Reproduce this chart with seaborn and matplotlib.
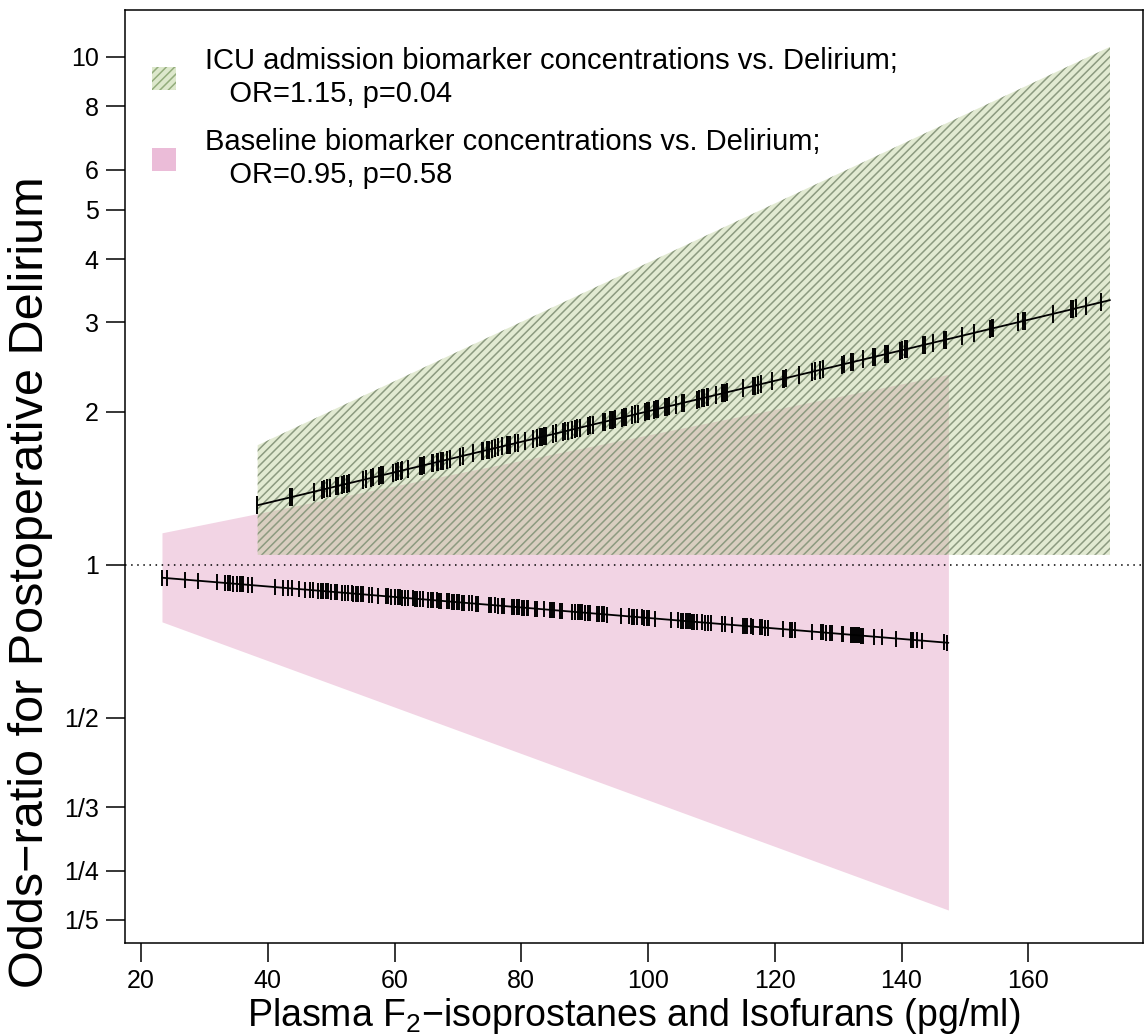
import numpy as np
import matplotlib
matplotlib.use("Agg")
import matplotlib.pyplot as plt
import seaborn as sns
from matplotlib.patches import Patch

# --- data ---
# ICU admission model: fitted OR line and 95% band (endpoints)
icu_x = [38.4, 172.9]
icu_or = [1.31, 3.32]
icu_lo = [1.046, 1.046]
icu_hi = [1.72, 10.47]

# Baseline model
base_x = [23.3, 147.4]
base_or = [0.943, 0.702]
base_lo = [0.772, 0.209]
base_hi = [1.156, 2.37]

# observed concentrations (rug ticks on the fitted lines)
icu_obs = [38.3, 43.5, 43.8, 47.3, 48.6, 48.9, 49.4, 49.8, 50.8, 51.1, 51.7, 52.0,
           52.5, 52.8, 55.0, 55.5, 56.3, 56.6, 57.6, 57.9, 58.2, 59.8, 60.2, 60.6,
           61.0, 61.2, 62.1, 64.0, 64.3, 64.7, 65.9, 66.1, 66.7, 66.9, 67.3, 67.7,
           68.3, 68.8, 70.3, 70.8, 72.4, 73.8, 74.0, 74.6, 74.9, 75.4, 75.9, 76.3,
           77.0, 77.8, 77.9, 78.2, 79.0, 79.5, 80.6, 81.9, 82.5, 83.0, 83.3, 83.6,
           83.9, 85.0, 85.5, 86.6, 86.9, 87.4, 88.0, 88.5, 88.8, 89.3, 90.5, 90.9,
           91.3, 92.9, 93.2, 94.0, 94.3, 94.5, 94.8, 95.9, 96.2, 96.5, 97.5, 98.0,
           98.4, 99.5, 99.9, 100.2, 101.0, 101.3, 101.6, 102.7, 103.0, 103.3, 104.4,
           105.4, 105.7, 107.7, 108.1, 108.5, 108.9, 109.3, 109.5, 110.7, 111.7,
           111.9, 112.2, 112.5, 115.0, 116.6, 116.9, 117.4, 117.9, 119.6, 121.3,
           121.5, 121.8, 123.8, 125.9, 126.4, 127.2, 127.6, 130.6, 131.0, 132.1,
           132.4, 134.0, 135.5, 135.8, 137.4, 137.7, 137.9, 139.8, 140.1, 140.6,
           140.9, 143.4, 143.7, 145.0, 146.7, 147.0, 149.6, 151.5, 154.0, 154.3,
           154.5, 158.4, 159.2, 159.5, 163.9, 166.8, 167.1, 167.6, 169.1, 171.5]

base_obs = [23.3, 24.1, 26.9, 29.0, 32.0, 33.3, 33.7, 34.0, 34.5, 35.1, 35.6, 35.9,
            36.1, 36.9, 37.5, 41.1, 42.4, 43.2, 43.8, 44.9, 45.9, 46.7, 47.1, 47.9,
            48.4, 48.7, 49.2, 49.5, 50.0, 50.6, 50.9, 51.7, 52.2, 52.7, 53.3, 53.5,
            53.9, 54.2, 54.7, 55.0, 56.0, 56.5, 57.4, 58.7, 59.0, 59.5, 60.1, 60.5,
            60.9, 61.2, 61.7, 62.1, 62.9, 63.2, 63.6, 64.0, 64.5, 65.3, 65.8, 66.1,
            66.7, 67.0, 67.3, 68.3, 68.6, 69.1, 69.4, 69.9, 70.2, 70.7, 71.0, 71.8,
            72.2, 72.9, 73.2, 74.9, 75.2, 75.9, 76.3, 77.0, 77.3, 78.6, 78.9, 79.3,
            79.7, 80.1, 80.5, 80.9, 81.1, 82.2, 82.5, 83.6, 84.6, 84.9, 85.2, 86.1,
            86.4, 88.0, 88.5, 89.0, 89.3, 89.6, 90.1, 90.5, 90.9, 92.0, 92.3, 92.8,
            93.1, 93.5, 95.8, 97.0, 97.5, 97.8, 98.3, 99.1, 99.4, 99.9, 100.2, 101.1,
            103.6, 104.7, 105.2, 105.5, 106.0, 106.3, 106.6, 107.0, 107.3, 107.7,
            108.5, 109.0, 109.5, 110.0, 111.7, 112.2, 113.3, 115.0, 115.3, 115.6,
            116.3, 116.6, 117.7, 118.0, 118.5, 118.9, 121.3, 122.4, 122.7, 123.2,
            125.9, 127.3, 127.6, 128.1, 128.7, 129.1, 130.6, 130.8, 132.1, 132.4,
            132.7, 133.0, 133.3, 133.6, 133.9, 135.7, 136.9, 139.2, 141.5, 141.8,
            142.5, 143.3, 146.7, 147.2]

y_ticks = [1/5, 1/4, 1/3, 1/2, 1, 2, 3, 4, 5, 6, 8, 10]
y_labels = ["1/5", "1/4", "1/3", "1/2", "1", "2", "3", "4", "5", "6", "8", "10"]
x_ticks = [20, 40, 60, 80, 100, 120, 140, 160]

legend_labels = ["ICU admission biomarker concentrations vs. Delirium;\n   OR=1.15, p=0.04",
                 "Baseline biomarker concentrations vs. Delirium;\n   OR=0.95, p=0.58"]

GREEN = (0.675, 0.765, 0.494, 0.35)   # translucent green fill
HATCH = "#8c9a80"
PINK = "#f2d4e4"

sns.set_style("ticks")
plt.rcParams["font.family"] = ["Liberation Sans", "DejaVu Sans"]
plt.rcParams["mathtext.default"] = "regular"
plt.rcParams["hatch.linewidth"] = 1.1
plt.rcParams["text.color"] = "black"
plt.rcParams["axes.labelcolor"] = "black"


def on_line(xs, line_x, line_y):
    # position of rug ticks on the (log-linear) fitted line
    return np.exp(np.interp(xs, line_x, np.log(line_y)))


fig = plt.figure(figsize=(11.45, 10.36), dpi=100)
ax = fig.add_axes([0.1092, 0.0898, 0.889, 0.9005])

# bands: pink underneath, translucent hatched green on top
ax.fill_between(base_x, base_lo, base_hi, facecolor=PINK, linewidth=0, zorder=1)
ax.fill_between(icu_x, icu_lo, icu_hi, facecolor=GREEN, edgecolor=HATCH,
                hatch="////", linewidth=0, zorder=2)

ax.axhline(1, color="black", linestyle=(0, (1, 3)), linewidth=1.1, zorder=3)

# fitted lines
sns.lineplot(x=icu_x, y=icu_or, color="black", linewidth=1.3, ax=ax, zorder=4)
sns.lineplot(x=base_x, y=base_or, color="black", linewidth=1.3, ax=ax, zorder=4)

# rugs on the lines
ax.plot(icu_obs, on_line(icu_obs, icu_x, icu_or), linestyle="none", marker="|",
        markersize=13, markeredgewidth=1.4, color="black", zorder=5)
ax.plot(base_obs, on_line(base_obs, base_x, base_or), linestyle="none", marker="|",
        markersize=11, markeredgewidth=1.4, color="black", zorder=5)

ax.set_yscale("log")
ax.set_xlim(17.47, 178.1)
ax.set_ylim(0.180, 12.37)
ax.set_yticks(y_ticks)
ax.set_yticklabels(y_labels)
ax.yaxis.set_minor_locator(matplotlib.ticker.NullLocator())
ax.set_xticks(x_ticks)
ax.tick_params(axis="both", direction="out", length=14, width=1.1,
               labelsize=18, colors="black", pad=5)

for s in ax.spines.values():
    s.set_color("black")
    s.set_linewidth(1.1)

ax.set_xlabel("Plasma F$_2$\u2212isoprostanes and Isofurans (pg/ml)", fontsize=27, labelpad=2)
ax.set_ylabel("Odds\u2212ratio for Postoperative Delirium", fontsize=35)
ax.yaxis.set_label_coords(-0.071, 0.387)

handles = [Patch(facecolor="#dde8cc", edgecolor="#93ad7c", hatch="////", linewidth=0),
           Patch(facecolor="#ebbcd8", linewidth=0)]
ax.legend(handles, legend_labels, loc="upper left", bbox_to_anchor=(0.001, 0.988),
          frameon=False, fontsize=21, handlelength=0.8, handleheight=0.8,
          handletextpad=1.0, labelspacing=0.7)

fig.savefig("out.png", dpi=100)
